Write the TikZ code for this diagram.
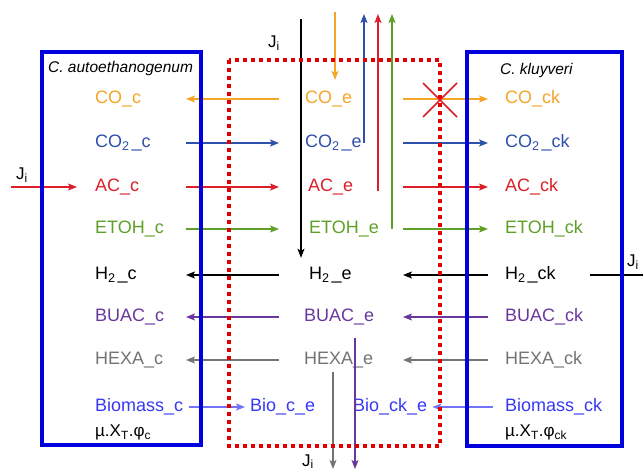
\documentclass[tikz,border=0pt]{standalone}
\usepackage{fontspec}
\setmainfont{Liberation Sans}
\usetikzlibrary{arrows.meta}
\definecolor{cor}{RGB}{245,165,40}
\definecolor{cdb}{RGB}{45,80,170}
\definecolor{cac}{RGB}{220,30,40}
\definecolor{cet}{RGB}{95,160,40}
\definecolor{cbu}{RGB}{105,55,155}
\definecolor{chx}{RGB}{115,115,115}
\definecolor{cbm}{RGB}{55,55,245}
\definecolor{cbox}{RGB}{0,0,220}
\definecolor{cdot}{RGB}{225,0,0}

\begin{document}
\begin{tikzpicture}[x=1pt,y=-1pt,
  lbl/.style={anchor=west,inner sep=0pt,font=\fontsize{18}{20}\selectfont,text height=13pt,text depth=4pt},
  ttl/.style={anchor=west,inner sep=0pt,font=\fontsize{15.5}{18}\selectfont\itshape},
  jlbl/.style={anchor=base west,inner sep=0pt,font=\fontsize{17}{20}\selectfont},
  flux/.style={line width=1.1pt,-{Stealth[length=9pt,width=7pt,inset=2pt]}}]
\useasboundingbox (0,0) rectangle (643,470);
%% C. autoethanogenum
\node[ttl] (tcA) at (48,68) {C. autoethanogenum};
\node[lbl,text=cor] (COc) at (95,99) {CO\_c};
\node[lbl,text=cdb] (CO2c) at (95,143) {CO\textsubscript{2}\kern2pt\_c};
\node[lbl,text=cac] (ACc) at (95,187) {AC\_c};
\node[lbl,text=cet] (ETOHc) at (95,229) {ETOH\_c};
\node[lbl] (H2c) at (95,275) {H\textsubscript{2}\kern2pt\_c};
\node[lbl,text=cbu] (BUACc) at (95,317) {BUAC\_c};
\node[lbl,text=chx] (HEXAc) at (95,360) {HEXA\_c};
\node[lbl,text=cbm] (Biomassc) at (95,407) {Biomass\_c};
\node[lbl,font=\fontsize{17}{20}\selectfont] (muc) at (95,432) {µ.X\textsubscript{T}.φ\textsubscript{c}};
%% medium
\node[lbl,text=cor] (COe) at (305,99) {CO\_e};
\node[lbl,text=cdb] (CO2e) at (305,143) {CO\textsubscript{2}\kern2pt\_e};
\node[lbl,text=cac] (ACe) at (308,187) {AC\_e};
\node[lbl,text=cet] (ETOHe) at (309,229) {ETOH\_e};
\node[lbl] (H2e) at (309,275) {H\textsubscript{2}\kern2pt\_e};
\node[lbl,text=cbu] (BUACe) at (304,317) {BUAC\_e};
\node[lbl,text=chx] (HEXAe) at (304,360) {HEXA\_e};
\node[lbl,text=cbm] (Bioce) at (250,407) {Bio\_c\_e};
\node[lbl,text=cbm] (Biocke) at (353,407) {Bio\_ck\_e};
%% C. kluyveri
\node[ttl] (tcK) at (500,70) {C. kluyveri};
\node[lbl,text=cor] (COck) at (505,99) {CO\_ck};
\node[lbl,text=cdb] (CO2ck) at (505,143) {CO\textsubscript{2}\kern2pt\_ck};
\node[lbl,text=cac] (ACck) at (505,187) {AC\_ck};
\node[lbl,text=cet] (ETOHck) at (505,229) {ETOH\_ck};
\node[lbl] (H2ck) at (505,275) {H\textsubscript{2}\kern2pt\_ck};
\node[lbl,text=cbu] (BUACck) at (505,317) {BUAC\_ck};
\node[lbl,text=chx] (HEXAck) at (505,360) {HEXA\_ck};
\node[lbl,text=cbm] (Biomassck) at (505,407) {Biomass\_ck};
\node[lbl,font=\fontsize{17}{20}\selectfont] (muck) at (505,432) {µ.X\textsubscript{T}.φ\textsubscript{ck}};
%% columns of the exchange arrows
\coordinate (lA) at (186,0);
\coordinate (lB) at (279,0);
\coordinate (rA) at (403,0);
\coordinate (rB) at (488,0);
%% left exchanges
\draw[flux,cor] (COe -| lB) -- (COc -| lA);
\draw[flux,cdb] (CO2c -| lA) -- (CO2e -| lB);
\draw[flux,cac] (ACc -| lA) -- (ACe -| lB);
\draw[flux,cet] (ETOHc -| lA) -- (ETOHe -| lB);
\draw[flux,black] (H2e -| lB) -- (H2c -| lA);
\draw[flux,cbu] (BUACe -| lB) -- (BUACc -| lA);
\draw[flux,chx] (HEXAe -| lB) -- (HEXAc -| lA);
\draw[flux,cbm!70,shorten <=6pt,shorten >=5pt] (Biomassc.east) -- (Bioce.west);
%% right exchanges
\draw[flux,cor] (COe -| rA) -- (COck -| rB);
\draw[flux,cdb] (CO2e -| rA) -- (CO2ck -| rB);
\draw[flux,cac] (ACe -| rA) -- (ACck -| rB);
\draw[flux,cet] (ETOHe -| rA) -- (ETOHck -| rB);
\draw[flux,black] (H2ck -| rB) -- (H2e -| rA);
\draw[flux,cbu] (BUACck -| rB) -- (BUACe -| rA);
\draw[flux,chx] (HEXAck -| rB) -- (HEXAe -| rA);
\draw[flux,cbm!70,shorten <=12pt,shorten >=5pt] (Biomassck.west) -- (Biocke.east);
%% feeds and outlets
\coordinate (jTop) at (301,19);
\coordinate (oTop) at (335,12);
\coordinate (bTop) at (364,14);
\coordinate (aTop) at (378,14);
\coordinate (gTop) at (392,14);
\coordinate (hBot) at (333,469);
\coordinate (pBot) at (355,469);
\coordinate (jL) at (11,0);
\coordinate (jR) at (643,0);
\draw[flux,black,shorten >=8.5pt] (jTop) -- (jTop |- H2e.north);
\draw[flux,cor,shorten >=10.5pt] (oTop) -- (oTop |- COe.north);
\draw[flux,cdb] (CO2e.east -| bTop) -- (bTop);
\draw[flux,cac] (ACe.base -| aTop) -- (aTop);
\draw[flux,cet] (ETOHe.east -| gTop) -- (gTop);
\draw[flux,chx,shorten <=3pt] (HEXAe.south -| hBot) -- (hBot);
\draw[flux,cbu,shorten <=12pt] (BUACe.south -| pBot) -- (pBot);
\draw[flux,cac,shorten >=18pt] (ACc -| jL) -- (ACc.west);
\draw[line width=1.1pt,shorten <=34pt] (H2ck.east) -- (H2ck -| jR);
\node[jlbl] (JiT) at (268,48) {J\textsubscript{i}};
\node[jlbl] (JiL) at (16,180) {J\textsubscript{i}};
\node[jlbl] (JiR) at (627,267) {J\textsubscript{i}};
\node[jlbl] (JiB) at (302,466) {J\textsubscript{i}};
%% compartments
\draw[cbox,line width=3.5pt] (42,52) rectangle (201,445);
\draw[cbox,line width=3.5pt] (467,52) rectangle (622,446);
\draw[cdot,line width=4pt,dash pattern=on 4pt off 4pt] (229,60) rectangle (440,446);
%% blocked CO uptake
\draw[cac,line width=1.6pt] (423,83) -- (457,117) (423,117) -- (457,83);
\end{tikzpicture}
\end{document}
